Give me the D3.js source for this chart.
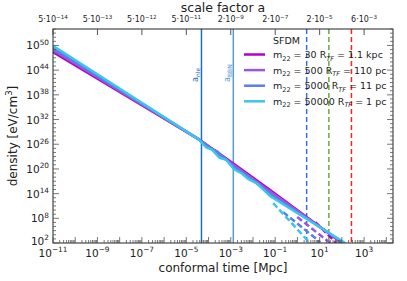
<!DOCTYPE html>
<html>
<head>
<meta charset="utf-8">
<script src="https://cdn.jsdelivr.net/npm/d3@7"></script>
<style>
body { margin: 0; background: #fff; }
text { font-family: "DejaVu Sans", sans-serif; }
</style>
</head>
<body>
<div id="chart"></div>
<script>
// log10 of conformal time [Mpc] and density [eV/cm^3]
const m22Vals = ['30', '500', '5000', '50000']
const rtfVals = ['1.1 kpc', '110 pc', '11 pc', '1 pc']
const colors = ['#b400c8', '#9b55e0', '#5b7fe3', '#3cc4f0']

const solidTau = [
  [-11, -4.47, -2.85, -1.23, 2.0],
  [-11, -4.47, -2.85, -1.23, 2.04],
  [-11, -4.47, -3.9, -3.6, -2.85, -2.3, -1.23, 2.08],
  [-11, -4.47, -4.1, -3.85, -3.5, -3.2, -2.85, -2.5, -2.2, -1.8, -1.23, 2.15]
]
const solidRho = [
  [48.4, 27.3, 21.2, 14.9, 2.0],
  [48.9, 27.3, 20.9, 14.5, 2.0],
  [49.4, 27.3, 25.0, 24.2, 20.4, 18.5, 13.9, 2.0],
  [49.9, 27.3, 25.2, 24.7, 22.7, 22.2, 19.9, 18.9, 17.5, 16.4, 13.4, 2.0]
]
const dashTau = [
  [0.8, 1.75],
  [-0.01, 1.48],
  [-0.64, 1.03],
  [-1.09, 0.56]
]
const dashRho = [
  [7.1, 2.0],
  [8.3, 2.0],
  [9.5, 2.2],
  [11.7, 2.0]
]

const bottomTicks = [1e-11, 1e-9, 1e-7, 1e-5, 1e-3, 1e-1, 1e1, 1e3]
const topLabels = [['5', '-14'], ['5', '-13'], ['5', '-12'], ['5', '-11'], ['2', '-9'], ['2', '-7'], ['2', '-5'], ['6', '-3']]
const yTicks = [1e2, 1e8, 1e14, 1e20, 1e26, 1e32, 1e38, 1e44, 1e50]

const vSolid = [{tau: 4.8e-5, color: '#1f6fbf', label: 'nle'}, {tau: 1.3e-3, color: '#5b9bd5', label: 'BBN'}]
const vDash = [{tau: 2.6, color: '#3b6fd6'}, {tau: 26, color: '#6aaa3a'}, {tau: 270, color: '#ff2020'}]

const W = 407, H = 281
const margin = {left: 53, right: 14, top: 29, bottom: 38}

const x = d3.scaleLog().domain([1e-11, 2e4]).range([margin.left, W - margin.right])
const y = d3.scaleLog().domain([1e2, 1e54]).range([H - margin.bottom, margin.top])

const svg = d3.select('#chart').append('svg')
.attr('width', W)
.attr('height', H)

svg.append('clipPath').attr('id', 'clip')
.append('rect')
.attr('x', margin.left).attr('y', margin.top)
.attr('width', W - margin.left - margin.right)
.attr('height', H - margin.top - margin.bottom)

const plot = svg.append('g').attr('clip-path', 'url(#clip)')

// vertical markers
vSolid.forEach(v => {
  plot.append('line')
  .attr('x1', x(v.tau)).attr('x2', x(v.tau))
  .attr('y1', margin.top).attr('y2', H - margin.bottom)
  .attr('stroke', v.color).attr('stroke-width', 1.5)
})
vDash.forEach(v => {
  plot.append('line')
  .attr('x1', x(v.tau)).attr('x2', x(v.tau))
  .attr('y1', margin.top).attr('y2', H - margin.bottom)
  .attr('stroke', v.color).attr('stroke-width', 1.5)
  .attr('stroke-dasharray', '5,3')
})

const line = d3.line()
.x(d => x(Math.pow(10, d[0])))
.y(d => y(Math.pow(10, d[1])))

dashTau.forEach((t, i) => {
  plot.append('path')
  .datum(t.map((v, j) => [v, dashRho[i][j]]))
  .attr('d', line)
  .attr('fill', 'none')
  .attr('stroke', colors[i])
  .attr('stroke-width', 2.5)
  .attr('stroke-dasharray', '6,3')
})
solidTau.forEach((t, i) => {
  plot.append('path')
  .datum(t.map((v, j) => [v, solidRho[i][j]]))
  .attr('d', line)
  .attr('fill', 'none')
  .attr('stroke', colors[i])
  .attr('stroke-width', 2.5)
})

// frame
svg.append('rect')
.attr('x', margin.left).attr('y', margin.top)
.attr('width', W - margin.left - margin.right)
.attr('height', H - margin.top - margin.bottom)
.attr('fill', 'none').attr('stroke', '#222').attr('stroke-width', 1)

const tickCol = '#555'
const axes = svg.append('g')

for (let e = -11; e <= 4; e++) {
  for (let k = 1; k <= 9; k++) {
    const v = k * Math.pow(10, e)
    if (v < 1e-11 || v > 2e4) continue
    const len = k === 1 ? 6 : 3
    axes.append('line')
    .attr('x1', x(v)).attr('x2', x(v))
    .attr('y1', H - margin.bottom).attr('y2', H - margin.bottom - len)
    .attr('stroke', tickCol).attr('stroke-width', 0.8)
  }
}
bottomTicks.forEach(v => {
  axes.append('line')
  .attr('x1', x(v)).attr('x2', x(v))
  .attr('y1', margin.top).attr('y2', margin.top + 6)
  .attr('stroke', tickCol).attr('stroke-width', 1)
})

for (let e = 2; e <= 54; e++) {
  const v = Math.pow(10, e)
  const len = yTicks.includes(v) ? 6 : 3
  axes.append('line')
  .attr('x1', margin.left).attr('x2', margin.left + len)
  .attr('y1', y(v)).attr('y2', y(v))
  .attr('stroke', tickCol).attr('stroke-width', 0.8)
  axes.append('line')
  .attr('x1', W - margin.right).attr('x2', W - margin.right - len)
  .attr('y1', y(v)).attr('y2', y(v))
  .attr('stroke', tickCol).attr('stroke-width', 0.8)
}

const powLabel = (sel, base, exp, size) => {
  sel.append('tspan').text(base)
  sel.append('tspan').text(exp)
  .attr('dy', -size * 0.45).attr('font-size', size * 0.7)
}

bottomTicks.forEach(v => {
  const t = axes.append('text')
  .attr('x', x(v)).attr('y', H - margin.bottom + 14)
  .attr('text-anchor', 'middle').attr('font-size', 10.5).attr('fill', '#222')
  powLabel(t, '10', String(Math.round(Math.log10(v))).replace('-', '\u2212'), 10.5)
})

bottomTicks.forEach((v, i) => {
  const t = axes.append('text')
  .attr('x', x(v)).attr('y', margin.top - 7)
  .attr('text-anchor', 'middle').attr('font-size', 8).attr('fill', '#222')
  t.append('tspan').text(topLabels[i][0] + '\u00b710')
  t.append('tspan').text(topLabels[i][1].replace('-', '\u2212'))
  .attr('dy', -3.5).attr('font-size', 5.6)
})

yTicks.forEach(v => {
  const t = axes.append('text')
  .attr('x', margin.left - 4).attr('y', y(v) + (v === 1e2 ? 2 : 4))
  .attr('text-anchor', 'end').attr('font-size', 10.5).attr('fill', '#222')
  powLabel(t, '10', String(Math.round(Math.log10(v))), 10.5)
})

svg.append('text')
.attr('x', (margin.left + W - margin.right) / 2).attr('y', 272)
.attr('text-anchor', 'middle').attr('font-size', 12).attr('fill', '#222')
.text('conformal time [Mpc]')

svg.append('text')
.attr('x', (margin.left + W - margin.right) / 2).attr('y', 12)
.attr('text-anchor', 'middle').attr('font-size', 12.5).attr('fill', '#222')
.text('scale factor a')

const yl = svg.append('text')
.attr('transform', 'translate(17,' + ((margin.top + H - margin.bottom) / 2) + ') rotate(-90)')
.attr('text-anchor', 'middle').attr('font-size', 12).attr('fill', '#222')
yl.append('tspan').text('density [eV/cm')
yl.append('tspan').text('3').attr('dy', -5).attr('font-size', 8.5)
yl.append('tspan').text(']').attr('dy', 5)

vSolid.forEach(v => {
  const t = svg.append('text')
  .attr('transform', 'translate(' + (x(v.tau) - 3) + ',82) rotate(-90)')
  .attr('font-size', 8).attr('fill', v.color)
  t.append('tspan').text('a')
  t.append('tspan').text(v.label).attr('dy', 2).attr('font-size', 6)
})

const lg = svg.append('g')
lg.append('text')
.attr('x', 273).attr('y', 44)
.attr('font-size', 9.5).attr('fill', '#222')
.text('SFDM')
m22Vals.forEach((m, i) => {
  const yy = 54.5 + i * 15.6
  lg.append('line')
  .attr('x1', 244).attr('x2', 265)
  .attr('y1', yy).attr('y2', yy)
  .attr('stroke', colors[i]).attr('stroke-width', 2.5)
  const t = lg.append('text')
  .attr('x', 273).attr('y', yy + 3.5)
  .attr('font-size', 9.5).attr('fill', '#222')
  t.append('tspan').text('m')
  t.append('tspan').text('22').attr('dy', 2.5).attr('font-size', 6.5)
  t.append('tspan').text(' = ' + m + ' R').attr('dy', -2.5)
  t.append('tspan').text('TF').attr('dy', 2.5).attr('font-size', 6.5).attr('font-style', 'italic')
  t.append('tspan').text(' = ' + rtfVals[i]).attr('dy', -2.5)
})
</script>
</body>
</html>
